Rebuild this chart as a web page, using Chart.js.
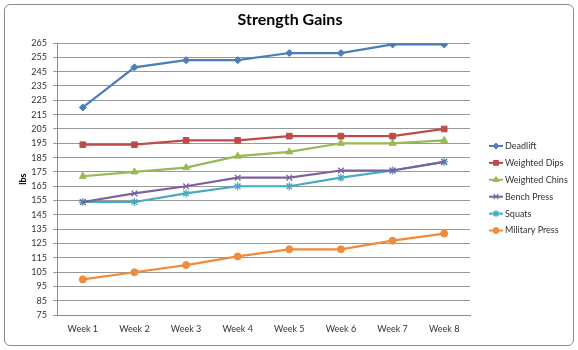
<!DOCTYPE html>
<html>
<head>
<meta charset="utf-8">
<script src="https://cdn.jsdelivr.net/npm/chart.js@4/dist/chart.umd.min.js"></script>
<style>
  body { margin: 0; background: #fff; }
  #wrap { position: absolute; left: 4px; top: 4px; width: 568px; height: 340px; border: 1px solid #8c8c8c; border-radius: 6px; }
  canvas { position: absolute; left: 0; top: 0; }
</style>
</head>
<body>
<div id="wrap"></div>
<canvas id="strength-chart" width="578" height="350"></canvas>
<script>
// data
var weeks = ['Week 1', 'Week 2', 'Week 3', 'Week 4', 'Week 5', 'Week 6', 'Week 7', 'Week 8'];
var deadlift = [220, 248, 253, 253, 258, 258, 264, 264];
var weightedDips = [194, 194, 197, 197, 200, 200, 200, 205];
var weightedChins = [172, 175, 178, 186, 189, 195, 195, 197];
var benchPress = [154, 160, 165, 171, 171, 176, 176, 182];
var squats = [154, 154, 160, 165, 165, 171, 176, 182];
var militaryPress = [100, 105, 110, 116, 121, 121, 127, 132];

var font = 'Lato, "Open Sans", sans-serif';

function series(label, values, color, style, radius) {
    return {
        label: label,
        data: values,
        borderColor: color,
        backgroundColor: color,
        borderWidth: 2.2,
        pointStyle: style,
        pointRadius: radius,
        pointBorderWidth: style === 'crossRot' || style === 'star' ? 1.3 : 1,
        tension: 0
    };
}

// title over the whole canvas + excel style legend (line with marker in the middle)
var decorations = {
    id: 'decorations',
    afterDraw: function (chart) {
        var c = chart.ctx;
        c.save();
        c.fillStyle = '#000';
        c.font = 'bold 16px ' + font;
        c.textAlign = 'center';
        c.textBaseline = 'middle';
        c.fillText('Strength Gains', 290, 20);

        c.font = '9px ' + font;
        c.textAlign = 'left';
        chart.data.datasets.forEach(function (ds, i) {
            var y = 146 + i * 16.9;
            c.strokeStyle = ds.borderColor;
            c.fillStyle = ds.backgroundColor;
            c.lineWidth = 2;
            c.beginPath();
            c.moveTo(489, y);
            c.lineTo(503, y);
            c.stroke();
            c.lineWidth = ds.pointBorderWidth;
            Chart.helpers.drawPoint(c, {
                pointStyle: ds.pointStyle,
                radius: ds.pointRadius * 0.85,
                borderWidth: ds.pointBorderWidth
            }, 496, y);
            c.fillStyle = '#333';
            c.fillText(ds.label, 505, y);
        });
        c.restore();
    }
};

var ctx = document.getElementById('strength-chart').getContext('2d');
var chart = new Chart(ctx, {
    type: 'line',
    data: {
        labels: weeks,
        datasets: [
            series('Deadlift', deadlift, '#4a7ebb', 'rectRot', 3.5),
            series('Weighted Dips', weightedDips, '#be4b48', 'rect', 4),
            series('Weighted Chins', weightedChins, '#98b954', 'triangle', 4),
            series('Bench Press', benchPress, '#7d60a0', 'crossRot', 4),
            series('Squats', squats, '#46aac5', 'star', 4),
            series('Military Press', militaryPress, '#f08a3c', 'circle', 3.5)
        ]
    },
    options: {
        responsive: false,
        animation: false,
        layout: { padding: { left: 14, right: 108, top: 43, bottom: 8 } },
        plugins: {
            legend: { display: false },
            tooltip: { enabled: false },
            title: { display: false }
        },
        scales: {
            x: {
                offset: true,
                grid: { display: false, drawTicks: false },
                border: { color: '#888' },
                ticks: { color: '#333', font: { family: font, size: 9 }, padding: 8, maxRotation: 0 }
            },
            y: {
                min: 75,
                max: 265,
                grid: { color: '#999', drawTicks: true, tickLength: 4 },
                border: { color: '#888' },
                ticks: { stepSize: 10, color: '#333', font: { family: font, size: 9 }, padding: 6 },
                title: { display: true, text: 'lbs', color: '#000', font: { family: font, size: 9, weight: 'bold' } },
                afterFit: function (scale) { scale.width = 43; }
            }
        }
    },
    plugins: [decorations]
});
</script>
</body>
</html>
